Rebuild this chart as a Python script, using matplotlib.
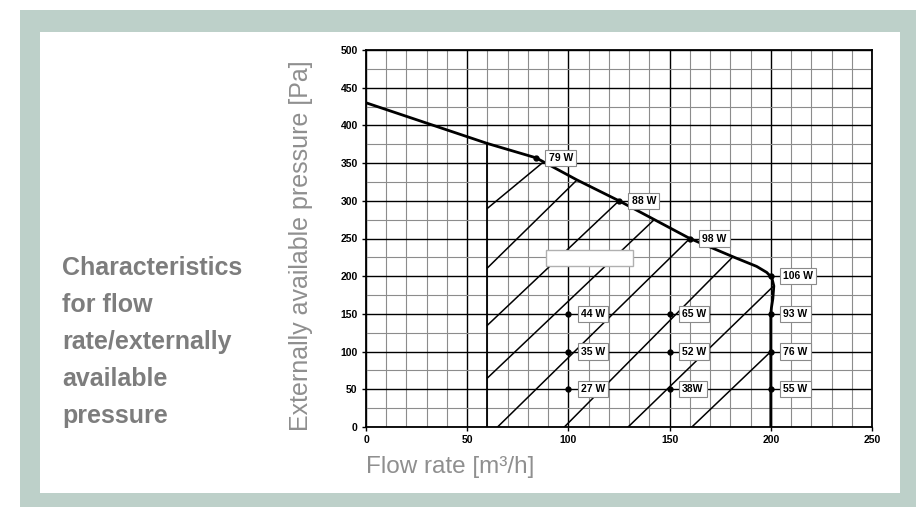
import matplotlib
matplotlib.use('Agg')
from matplotlib import pyplot as plt
from matplotlib.patches import Rectangle
from matplotlib.ticker import MultipleLocator

plt.rcParams['font.family'] = ['Liberation Sans', 'DejaVu Sans']

# fan characteristic curve (flow m3/h, pressure Pa)
curve_flow = [0, 60, 84, 104, 125, 160, 182, 193, 198, 200.5, 201.5, 201, 200.3, 200, 200]
curve_press = [430, 376, 357, 328, 300, 250, 225, 213, 205, 198, 187, 170, 158, 150, 0]

# operating points on the curve
op_flow = [84, 125, 160, 200]
op_press = [357, 300, 250, 200]
op_labels = ['79 W', '88 W', '98 W', '106 W']

# operating points inside the field
pt_flow = [100, 100, 100, 150, 150, 150, 200, 200, 200]
pt_press = [150, 100, 50, 150, 100, 50, 150, 100, 50]
pt_labels = ['44 W', '35 W', '27 W', '65 W', '52 W', '38W', '93 W', '76 W', '55 W']

# hatch lines (start / end)
hatch_x0 = [60, 60, 60, 60, 65, 98, 129.5, 161]
hatch_y0 = [290, 211, 135, 65, 0, 0, 0, 0]
hatch_x1 = [87, 104, 125, 142, 160, 181, 201, 200]
hatch_y1 = [350, 327, 300, 274, 250, 225, 186, 100]

W, H = 916, 507
fig = plt.figure(figsize=(W / 100, H / 100), dpi=100)
fig.patch.set_facecolor('white')
fig.patches.append(Rectangle((20 / W, 0), (W - 20) / W, (H - 10) / H,
                             transform=fig.transFigure, facecolor='#bdd0c9',
                             edgecolor='none', zorder=-2))
fig.patches.append(Rectangle((40 / W, 14 / H), 860 / W, 461 / H,
                             transform=fig.transFigure, facecolor='white',
                             edgecolor='none', zorder=-1))

ax = fig.add_axes([366 / W, 1 - 427 / H, 506 / W, 377 / H])
ax.set_xlim(0, 250)
ax.set_ylim(0, 500)
ax.xaxis.set_major_locator(MultipleLocator(50))
ax.xaxis.set_minor_locator(MultipleLocator(10))
ax.yaxis.set_major_locator(MultipleLocator(50))
ax.yaxis.set_minor_locator(MultipleLocator(25))
ax.grid(which='minor', color='#8c8c8c', lw=0.8, zorder=1)
ax.grid(which='major', color='black', lw=1.0, zorder=1)
ax.set_axisbelow(True)
ax.tick_params(which='minor', length=0)
ax.tick_params(which='major', length=3, width=1, labelsize=7.5, pad=3)
for lab in ax.get_xticklabels() + ax.get_yticklabels():
    lab.set_fontweight('bold')
for s in ax.spines.values():
    s.set_linewidth(1.3)

# hatched field
ax.plot([60, 60], [0, 376], color='black', lw=1.3, zorder=3)
for i in range(len(hatch_x0)):
    ax.plot([hatch_x0[i], hatch_x1[i]], [hatch_y0[i], hatch_y1[i]],
            color='black', lw=1.1, zorder=3)
ax.add_patch(Rectangle((89, 213), 43, 22, facecolor='white',
                       edgecolor='#b0b0b0', lw=1.0, zorder=4))

ax.plot(curve_flow, curve_press, color='black', lw=2.0, zorder=5,
        solid_joinstyle='round')

box = dict(boxstyle='square,pad=0.3', facecolor='white', edgecolor='#8a8a8a', lw=0.8)
ax.plot(op_flow, op_press, 'o', color='black', ms=3.5, zorder=6)
ax.plot(pt_flow, pt_press, 'o', color='black', ms=3.5, zorder=6)
for x, y, t in zip(op_flow + pt_flow, op_press + pt_press, op_labels + pt_labels):
    ax.annotate(t, (x, y), xytext=(9, 0), textcoords='offset points',
                ha='left', va='center', fontsize=7.5, fontweight='bold',
                bbox=box, zorder=7)

fig.text(450 / W, 1 - 467 / H, 'Flow rate [m³/h]', ha='center', va='center',
         fontsize=17.5, color='#8f8f8f')
fig.text(301 / W, 1 - 246 / H, 'Externally available pressure [Pa]', ha='center',
         va='center', rotation=90, fontsize=18, color='#8f8f8f')

left_lines = ['Characteristics', 'for flow', 'rate/externally', 'available', 'pressure']
for i, t in enumerate(left_lines):
    fig.text(62 / W, 1 - (268 + 37 * i) / H, t, ha='left', va='center',
             fontsize=18, fontweight='bold', color='#7d7d7d')

plt.savefig('out.png', dpi=100)
